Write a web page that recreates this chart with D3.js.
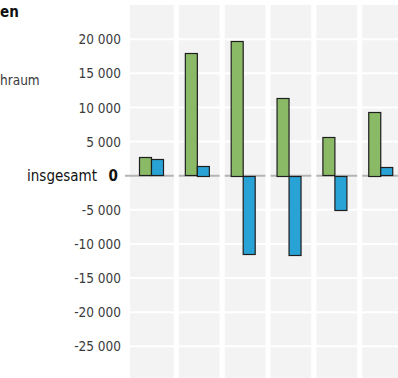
<!DOCTYPE html>
<html>
<head>
<meta charset="utf-8">
<script src="https://cdn.jsdelivr.net/npm/d3@7"></script>
<style>
  body { margin: 0; background: #fff; }
  svg { display: block; font-family: "Liberation Sans Narrow", "DejaVu Sans Condensed", sans-serif; }
</style>
</head>
<body>
<div id="chart"></div>
<script>
// chart data
const categories = ["g1", "g2", "g3", "g4", "g5", "g6"];
const seriesNames = ["gruen", "blau"];
const greenValues = [2700, 17900, 19800, 11400, 5600, 9400];
const blueValues = [2400, 1400, -11400, -11600, -5000, 1200];
const tickValues = [20000, 15000, 10000, 5000, 0, -5000, -10000, -15000, -20000, -25000];
const tickLabels = ["20 000", "15 000", "10 000", "5 000", "0", "-5 000", "-10 000", "-15 000", "-20 000", "-25 000"];

const width = 398, height = 378;
const color = d3.scaleOrdinal().domain(seriesNames).range(["#8bba67", "#29a3d6"]);

const svg = d3.select("#chart").append("svg")
    .attr("width", width)
    .attr("height", height);

// scales
const x = d3.scaleBand()
    .domain(categories)
    .range([133, 133 + 45 * 6])
    .paddingInner(5 / 45)
    .paddingOuter(0)
    .align(0);
// bars sit a bit left of the panel middle
const x1 = d3.scaleBand()
    .domain(seriesNames)
    .range([6, 30]);
const y = d3.scaleLinear()
    .domain([-30000, 25000])
    .range([380.5, 5]);

const rows = categories.map((c, i) => ({
    cat: c,
    values: [
        { key: seriesNames[0], value: greenValues[i] },
        { key: seriesNames[1], value: blueValues[i] }
    ]
}));

// grey panels
svg.append("g").selectAll("rect")
    .data(categories)
    .enter()
    .append("rect")
    .attr("x", (d, i) => i === 0 ? x(d) - 3 : x(d))
    .attr("y", y(25000))
    .attr("width", (d, i) => i === 0 ? x.bandwidth() + 3 : x.bandwidth())
    .attr("height", y(-30000) - y(25000))
    .attr("fill", "#f3f3f3");

// white grid lines
svg.append("g").selectAll("line")
    .data(tickValues.filter(d => d !== 0))
    .enter()
    .append("line")
    .attr("x1", 125)
    .attr("x2", width)
    .attr("y1", d => y(d))
    .attr("y2", d => y(d))
    .attr("stroke", "#fff")
    .attr("stroke-width", 2);

// zero line, per panel
svg.append("g").selectAll("line")
    .data(categories)
    .enter()
    .append("line")
    .attr("x1", (d, i) => i === 0 ? 125 : x(d))
    .attr("x2", d => x(d) + x.bandwidth())
    .attr("y1", y(0))
    .attr("y2", y(0))
    .attr("stroke", "#b4b4b4")
    .attr("stroke-width", 2);

// bars
const groups = svg.append("g").selectAll("g")
    .data(rows)
    .enter()
    .append("g")
    .attr("transform", d => `translate(${x(d.cat)},0)`);

groups.selectAll("rect")
    .data(d => d.values)
    .enter()
    .append("rect")
    .attr("x", d => x1(d.key) + 0.5)
    .attr("y", d => Math.round(y(Math.max(0, d.value))) + 0.5)
    .attr("width", x1.bandwidth())
    .attr("height", d => Math.round(Math.abs(y(d.value) - y(0))))
    .attr("fill", d => color(d.key))
    .attr("stroke", "#1e1e1e")
    .attr("stroke-width", 1.2);

// y axis labels
const yAxis = d3.axisLeft(y)
    .tickValues(tickValues)
    .tickFormat((d, i) => tickLabels[i])
    .tickSize(0)
    .tickPadding(0);

const axisG = svg.append("g")
    .attr("transform", "translate(121,0)")
    .call(yAxis);
axisG.select(".domain").remove();
axisG.selectAll("text")
    .attr("font-family", "Liberation Sans Narrow, DejaVu Sans Condensed, sans-serif")
    .attr("font-size", d => d === 0 ? 15 : 13.5)
    .attr("dy", "0.34em")
    .style("font-weight", d => d === 0 ? "bold" : "normal")
    .style("fill", d => d === 0 ? "#111" : "#3a3a3a")
    .attr("x", d => d === 0 ? -3 : 0);

// left texts
svg.append("text")
    .attr("x", 97)
    .attr("y", y(0))
    .attr("dy", "0.34em")
    .attr("text-anchor", "end")
    .attr("font-size", 15)
    .attr("fill", "#111")
    .text("insgesamt");

svg.append("text")
    .attr("x", 0)
    .attr("y", 17)
    .attr("font-size", 15)
    .attr("font-weight", "bold")
    .attr("fill", "#111")
    .text("en");

svg.append("text")
    .attr("x", 0)
    .attr("y", 85)
    .attr("font-size", 13.5)
    .attr("fill", "#3a3a3a")
    .text("hraum");
</script>
</body>
</html>
